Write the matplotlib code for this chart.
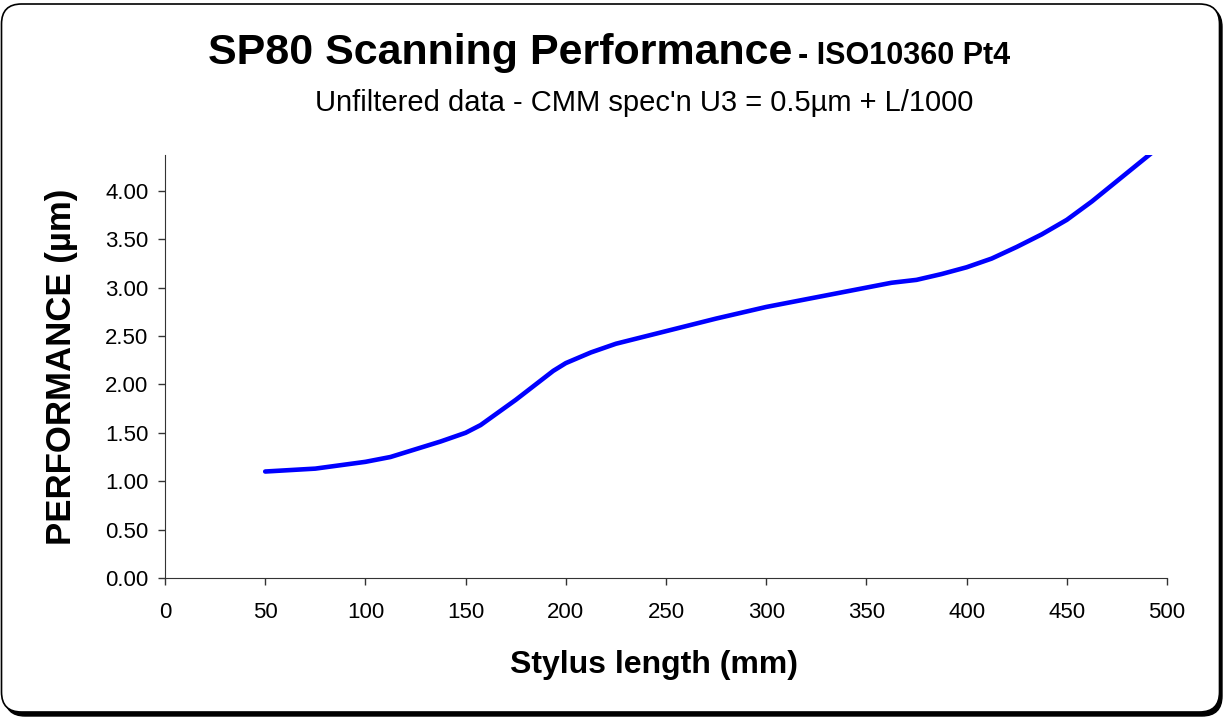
import numpy as np
import matplotlib.pyplot as plt
import matplotlib.transforms as mtransforms
from matplotlib.patches import FancyBboxPatch

plt.rcParams['font.family'] = ['Liberation Sans', 'DejaVu Sans']

# stylus length (mm) vs performance (um)
stylusLength = [50, 75, 100, 112.5, 125, 137.5, 150, 157.5, 175, 193.75, 200, 212.5,
                225, 250, 275, 300, 325, 350, 362.5, 375, 387.5, 400, 412.5, 425,
                437.5, 450, 462.5, 475, 487.5, 500]
performance = [1.10, 1.13, 1.20, 1.25, 1.33, 1.41, 1.50, 1.58, 1.84, 2.14, 2.22, 2.33,
               2.42, 2.55, 2.68, 2.80, 2.90, 3.00, 3.05, 3.08, 3.14, 3.21, 3.30, 3.42,
               3.55, 3.70, 3.89, 4.10, 4.31, 4.52]

xTicks = np.arange(0, 501, 50)
yTicks = np.arange(0, 4.01, 0.5)

W, H = 1224, 717
figure = plt.figure(figsize=(W / 100, H / 100), dpi=100)

# rounded frame with shadow (pixel coords)
pix = mtransforms.IdentityTransform()
shadow = FancyBboxPatch((5, 1), W - 7, H - 8, boxstyle="round,pad=0,rounding_size=20",
                        transform=pix, facecolor='black', edgecolor='black', zorder=0)
frame = FancyBboxPatch((1.5, 5), W - 6, H - 9, boxstyle="round,pad=0,rounding_size=20",
                       transform=pix, facecolor='white', edgecolor='black', linewidth=1.2, zorder=1)
figure.patches.extend([shadow, frame])

axis = figure.add_axes([165 / W, 1 - 578 / H, (1167 - 165) / W, (578 - 155) / H])
axis.set_zorder(5)
axis.patch.set_alpha(0)
axis.plot(stylusLength, performance, color='#0000FF', linewidth=3.3, solid_capstyle='round')

axis.set_xlim(0, 500)
axis.set_ylim(0, 4.37)
axis.set_xticks(xTicks)
axis.set_yticks(yTicks)
axis.set_yticklabels(['%.2f' % v for v in yTicks])
axis.tick_params(labelsize=16, length=5, width=1, color='#333333', pad=8)
axis.tick_params(axis='x', pad=12)
axis.tick_params(axis='y', pad=7)
for side in ['top', 'right']:
    axis.spines[side].set_visible(False)
for side in ['left', 'bottom']:
    axis.spines[side].set_color('#333333')

figure.text(792 / W, 1 - 64 / H, 'SP80 Scanning Performance', ha='right', va='baseline',
            fontsize=31, fontweight='bold', zorder=6)
figure.text(798 / W, 1 - 64 / H, '- ISO10360 Pt4', ha='left', va='baseline',
            fontsize=22, fontweight='bold', zorder=6)
figure.text(644 / W, 0.856, "Unfiltered data - CMM spec'n U3 = 0.5\u00b5m + L/1000",
            ha='center', va='center', fontsize=21, zorder=6)
figure.text(654 / W, 1 - 665 / H, 'Stylus length (mm)', ha='center', va='center',
            fontsize=23, fontweight='bold', zorder=6)
figure.text(62 / W, 1 - 367 / H, 'PERFORMANCE (\u00b5m)', ha='center', va='center',
            rotation=90, fontsize=25, fontweight='bold', zorder=6)

plt.savefig('out.png', dpi=100)
